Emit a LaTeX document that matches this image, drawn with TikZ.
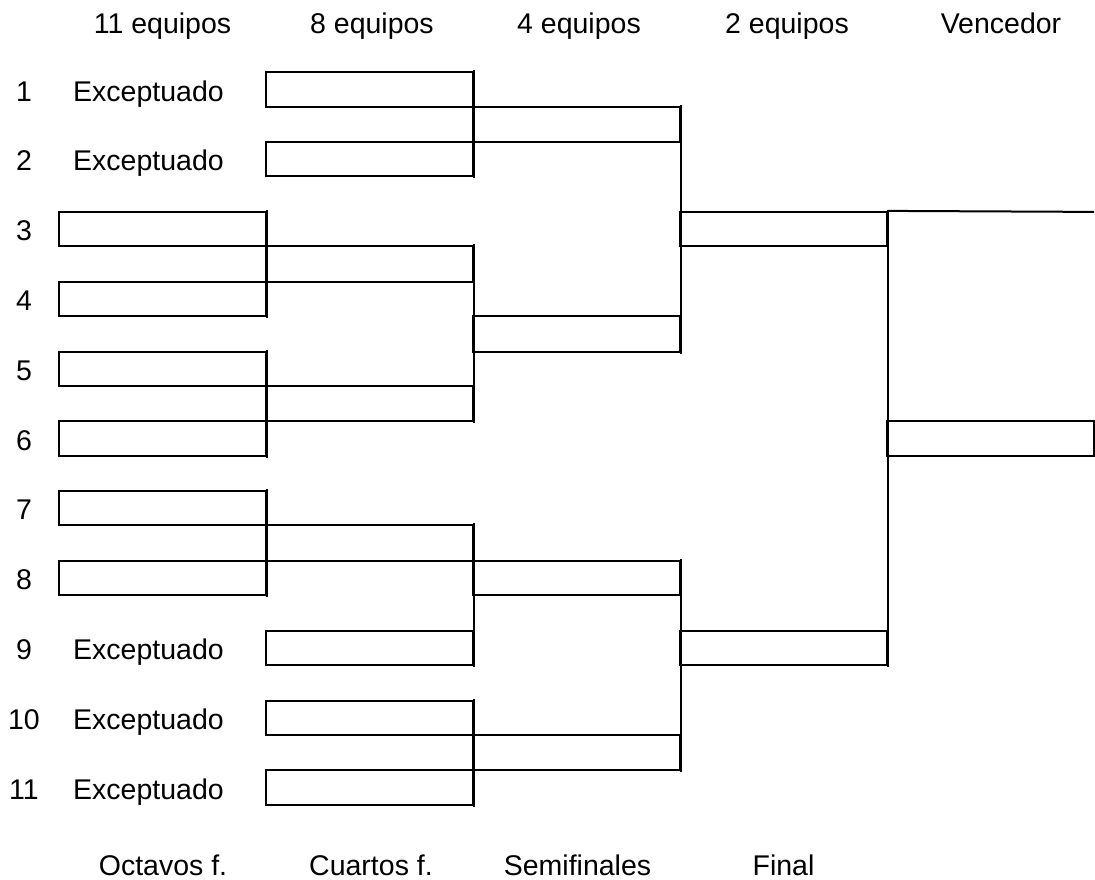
\documentclass[tikz,border=0pt]{standalone}
\usepackage{fontspec}
\setmainfont{Liberation Sans}
\begin{document}
\begin{tikzpicture}[x=1pt,y=-1pt,line width=2pt,
  every node/.style={font=\fontsize{28.5}{32}\selectfont},
  teambox/.style={draw,rectangle,inner sep=0pt,minimum width=207pt,minimum height=34.3pt},
  gapbox/.style={draw,rectangle,inner sep=0pt,minimum width=207pt,minimum height=35.5pt},
  label/.style={anchor=base,inner sep=0pt},
  bracket/.style={line cap=rect}]
\useasboundingbox (0,0) rectangle (1095,880);
% headers
\node[label] (h1) at (162.5,33.5) {11 equipos};
\node[label] (h2) at (372,33.5) {8 equipos};
\node[label] (h3) at (579,33.5) {4 equipos};
\node[label] (h4) at (787,33.5) {2 equipos};
\node[label] (h5) at (1001,33.5) {Vencedor};
% footers
\node[label] (f1) at (163,875) {Octavos f.};
\node[label] (f2) at (371,875) {Cuartos f.};
\node[label] (f3) at (577.5,875) {Semifinales};
\node[label] (f4) at (783.5,875) {Final};
% row numbers
\node[label] (n1) at (24,101.05) {1};
\node[label] (n2) at (24,170.85) {2};
\node[label] (n3) at (24,240.65) {3};
\node[label] (n4) at (24,310.45) {4};
\node[label] (n5) at (24,380.25) {5};
\node[label] (n6) at (24,450.05) {6};
\node[label] (n7) at (24,519.85) {7};
\node[label] (n8) at (24,589.65) {8};
\node[label] (n9) at (24,659.45) {9};
\node[label] (n10) at (24,729.25) {10};
\node[label] (n11) at (24,799.05) {11};
% exceptuado
\node[label] (e1) at (148.5,101.05) {Exceptuado};
\node[label] (e2) at (148.5,170.85) {Exceptuado};
\node[label] (e9) at (148.5,659.45) {Exceptuado};
\node[label] (e10) at (148.5,729.25) {Exceptuado};
\node[label] (e11) at (148.5,799.05) {Exceptuado};
% octavos
\node[teambox] (o3) at (162.5,229.05) {};
\node[teambox] (o4) at (162.5,298.85) {};
\node[teambox] (o5) at (162.5,368.65) {};
\node[teambox] (o6) at (162.5,438.45) {};
\node[teambox] (o7) at (162.5,508.25) {};
\node[teambox] (o8) at (162.5,578.05) {};
% cuartos
\node[teambox] (q1) at (369.5,89.45) {};
\node[teambox] (q2) at (369.5,159.25) {};
\node[gapbox] (q34) at (369.5,263.95) {};
\node[gapbox] (q56) at (369.5,403.55) {};
\node[gapbox] (q78) at (369.5,543.15) {};
\node[teambox] (q9) at (369.5,647.85) {};
\node[teambox] (q10) at (369.5,717.65) {};
\node[teambox] (q11) at (369.5,787.45) {};
% semis
\node[gapbox] (s12) at (576,124.35) {};
\node[gapbox] (s36) at (576,333.75) {};
\node[teambox] (s79) at (576,578.05) {};
\node[gapbox] (s1011) at (576,752.55) {};
% final
\node[teambox] (fa) at (783,229.05) {};
\node[teambox] (fb) at (783,647.85) {};
% winner
\node[teambox] (w) at (990.5,438.45) {};
\coordinate (wtop) at (1094,211.9);
% bracket lines
\draw[bracket] (o3.north east) -- (o4.south east);
\draw[bracket] (o5.north east) -- (o6.south east);
\draw[bracket] (o7.north east) -- (o8.south east);
\draw[bracket] (q1.north east) -- (q2.south east);
\draw[bracket] (q34.north east) -- (q56.south east);
\draw[bracket] (q78.north east) -- (q9.south east);
\draw[bracket] (q10.north east) -- (q11.south east);
\draw[bracket] (s12.north east) -- (s36.south east);
\draw[bracket] (s79.north east) -- (s1011.south east);
\draw[bracket] (fa.north east) -- (fb.south east);
\draw (fa.north east) -- (wtop);
\end{tikzpicture}
\end{document}
